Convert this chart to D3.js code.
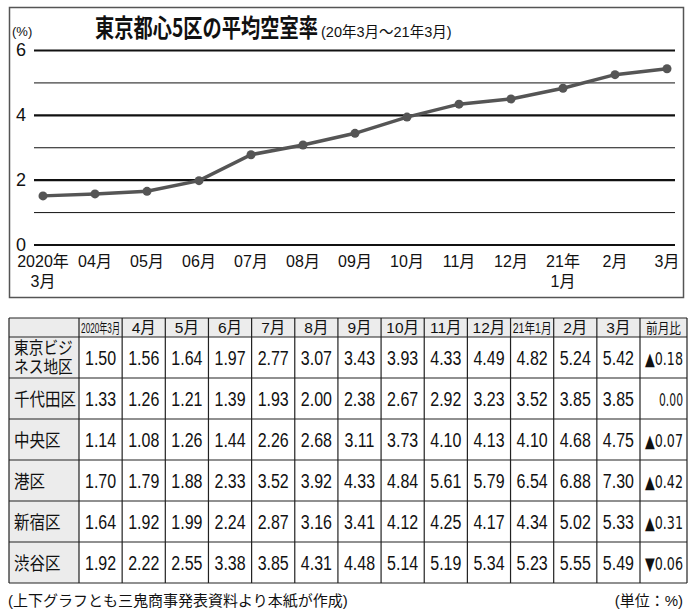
<!DOCTYPE html>
<html>
<head>
<meta charset="utf-8">
<script src="https://cdn.jsdelivr.net/npm/d3@7"></script>
<style>
  body { margin: 0; background: #fff; }
  text { font-family: "Liberation Sans", "Noto Sans CJK JP", sans-serif; fill: #111; }
</style>
</head>
<body>
<div id="chart"></div>
<script>
// --- data ---
const xLabels = [["2020年", "3月"], ["04月"], ["05月"], ["06月"], ["07月"], ["08月"], ["09月"],
                 ["10月"], ["11月"], ["12月"], ["21年", "1月"], ["2月"], ["3月"]];
const avgRate = [1.50, 1.56, 1.64, 1.97, 2.77, 3.07, 3.43, 3.93, 4.33, 4.49, 4.82, 5.24, 5.42];
const yTicks = [0, 1, 2, 3, 4, 5, 6];

const tableHeads = ["2020年3月", "4月", "5月", "6月", "7月", "8月", "9月", "10月", "11月", "12月", "21年1月", "2月", "3月"];
const areaLines = [["東京ビジ", "ネス地区"], ["千代田区"], ["中央区"], ["港区"], ["新宿区"], ["渋谷区"]];
const business = [1.50, 1.56, 1.64, 1.97, 2.77, 3.07, 3.43, 3.93, 4.33, 4.49, 4.82, 5.24, 5.42];
const chiyoda  = [1.33, 1.26, 1.21, 1.39, 1.93, 2.00, 2.38, 2.67, 2.92, 3.23, 3.52, 3.85, 3.85];
const chuo     = [1.14, 1.08, 1.26, 1.44, 2.26, 2.68, 3.11, 3.73, 4.10, 4.13, 4.10, 4.68, 4.75];
const minato   = [1.70, 1.79, 1.88, 2.33, 3.52, 3.92, 4.33, 4.84, 5.61, 5.79, 6.54, 6.88, 7.30];
const shinjuku = [1.64, 1.92, 1.99, 2.24, 2.87, 3.16, 3.41, 4.12, 4.25, 4.17, 4.34, 5.02, 5.33];
const shibuya  = [1.92, 2.22, 2.55, 3.38, 3.85, 4.31, 4.48, 5.14, 5.19, 5.34, 5.23, 5.55, 5.49];
const changes  = ["▲0.18", "0.00", "▲0.07", "▲0.42", "▲0.31", "▼0.06"];
const tableRows = [business, chiyoda, chuo, minato, shinjuku, shibuya];

const W = 693, H = 615;
const svg = d3.select("#chart").append("svg")
    .attr("width", W).attr("height", H);

// squeeze a text horizontally (via its parent g) so it fits in maxW
function fitWidth(sel, maxW) {
  sel.each(function () {
    const w = this.getComputedTextLength();
    if (w > maxW) {
      const g = d3.select(this.parentNode);
      const t = g.attr("transform") || "";
      g.attr("transform", t + ` scale(${maxW / w},1)`);
    }
  });
}

// ---- upper chart ----
svg.append("rect")
    .attr("x", 9.5).attr("y", 7.5).attr("width", 674).attr("height", 290)
    .attr("fill", "none").attr("stroke", "#555").attr("stroke-width", 1.5);

const titleG = svg.append("g").attr("transform", "translate(95,37)");
titleG.append("text")
    .attr("font-size", 25).attr("font-weight", "bold")
    .style("font-family", "'Noto Sans CJK JP', sans-serif")
    .text("東京都心5区の平均空室率")
    .call(fitWidth, 223);
const subG = svg.append("g").attr("transform", "translate(321,37)");
subG.append("text")
    .attr("font-size", 14.5)
    .text("(20年3月～21年3月)")
    .call(fitWidth, 134);
svg.append("text").attr("x", 12).attr("y", 36)
    .attr("font-size", 13).text("(%)");

const gridL = 34, gridR = 675;
const y = d3.scaleLinear().domain([0, 6]).range([244.5, 50]);
const x = d3.scalePoint().domain(d3.range(xLabels.length)).range([43, 667]);

const yAxis = svg.append("g")
    .attr("transform", `translate(${gridL},0)`)
    .call(d3.axisLeft(y).tickValues(yTicks).tickSize(-(gridR - gridL)).tickPadding(8)
        .tickFormat(d => d % 2 === 0 ? d : ""));
yAxis.select(".domain").remove();
yAxis.selectAll(".tick line")
    .attr("stroke", "#111")
    .attr("stroke-width", d => d % 2 === 0 ? 2.2 : 1);
yAxis.selectAll(".tick text")
    .attr("font-size", 18).attr("fill", "#111")
    .style("font-family", "'Liberation Sans', sans-serif");

// x labels
const xl = svg.append("g").selectAll("text")
    .data(xLabels).join("text")
    .attr("x", (d, i) => x(i))
    .attr("y", 267)
    .attr("text-anchor", "middle")
    .attr("font-size", 16);
xl.selectAll("tspan").data(d => d).join("tspan")
    .attr("x", function () { return d3.select(this.parentNode).attr("x"); })
    .attr("dy", (d, i) => i === 0 ? 0 : 20)
    .text(d => d);

const line = d3.line().x((d, i) => x(i)).y(d => y(d));
svg.append("path").datum(avgRate)
    .attr("d", line).attr("fill", "none")
    .attr("stroke", "#555").attr("stroke-width", 3.5);
svg.append("g").selectAll("circle")
    .data(avgRate).join("circle")
    .attr("cx", (d, i) => x(i)).attr("cy", d => y(d))
    .attr("r", 4.5).attr("fill", "#555");

// ---- table ----
const tL = 9, tR = 687, c1 = 79, cLast = 640;
const hTop = 318, hBot = 337, tBot = 583;
const col = d3.scaleBand().domain(d3.range(tableHeads.length)).range([c1, cLast]);
const row = d3.scaleBand().domain(d3.range(tableRows.length)).range([hBot, tBot]);

const tbl = svg.append("g");
tbl.append("rect").attr("x", tL).attr("y", hTop).attr("width", tR - tL).attr("height", hBot - hTop)
    .attr("fill", "#ececec");
tbl.append("rect").attr("x", tL).attr("y", hBot).attr("width", c1 - tL).attr("height", tBot - hBot)
    .attr("fill", "#ececec");

// grid
const vLines = [tL, c1].concat(d3.range(1, tableHeads.length).map(i => col(i)), [cLast, tR]);
tbl.selectAll(".vl").data(vLines).join("line").attr("class", "vl")
    .attr("x1", d => d).attr("x2", d => d).attr("y1", hTop).attr("y2", tBot)
    .attr("stroke", "#222").attr("stroke-width", 1.2);
const hLines = [hTop, hBot].concat(d3.range(1, tableRows.length).map(i => row(i)), [tBot]);
tbl.selectAll(".hl").data(hLines).join("line").attr("class", "hl")
    .attr("x1", tL).attr("x2", tR).attr("y1", d => d).attr("y2", d => d)
    .attr("stroke", "#222").attr("stroke-width", 1.2);

// header
tbl.append("g").selectAll("g").data(tableHeads).join("g")
    .attr("transform", (d, i) => `translate(${col(i) + col.bandwidth() / 2},333)`)
    .append("text")
    .attr("text-anchor", "middle")
    .attr("font-size", d => d.length > 3 ? 14 : 15.5)
    .text(d => d)
    .call(fitWidth, 39);
tbl.append("g").attr("transform", `translate(${(cLast + tR) / 2},333)`)
    .append("text")
    .attr("text-anchor", "middle").attr("font-size", 14)
    .text("前月比")
    .call(fitWidth, 35);

// row labels
areaLines.forEach((lines, r) => {
  const cy = row(r) + row.bandwidth() / 2;
  const g = tbl.append("g").attr("transform", `translate(14,${cy}) scale(0.84,1)`);
  if (lines.length === 2) {
    g.selectAll("text").data(lines).join("text")
        .attr("x", 0).attr("y", (d, i) => i === 0 ? -4 : 15.5)
        .attr("font-size", 17.5).text(d => d);
  } else {
    g.append("text").attr("x", 0).attr("y", 7).attr("font-size", 18.5).text(lines[0]);
  }
});

// values
tableRows.forEach((vals, r) => {
  const cy = row(r) + row.bandwidth() / 2;
  tbl.append("g").selectAll("g").data(vals).join("g")
      .attr("transform", (d, i) => `translate(${col(i) + col.bandwidth() / 2},${cy + 7}) scale(0.82,1)`)
      .append("text")
      .attr("text-anchor", "middle").attr("font-size", 19.5)
      .text(d => d.toFixed(2));
  tbl.append("g").attr("transform", `translate(683,${cy + 7})`)
      .append("text").attr("text-anchor", "end").attr("font-size", 18)
      .style("font-family", "'DejaVu Sans', sans-serif")
      .text(changes[r])
      .call(fitWidth, changes[r].length > 4 ? 38 : 24);
});

// footer
svg.append("text").attr("x", 8).attr("y", 606).attr("font-size", 15)
    .text("(上下グラフとも三鬼商事発表資料より本紙が作成)");
svg.append("text").attr("x", 683).attr("y", 606).attr("font-size", 15)
    .attr("text-anchor", "end").text("(単位：%)");
</script>
</body>
</html>
